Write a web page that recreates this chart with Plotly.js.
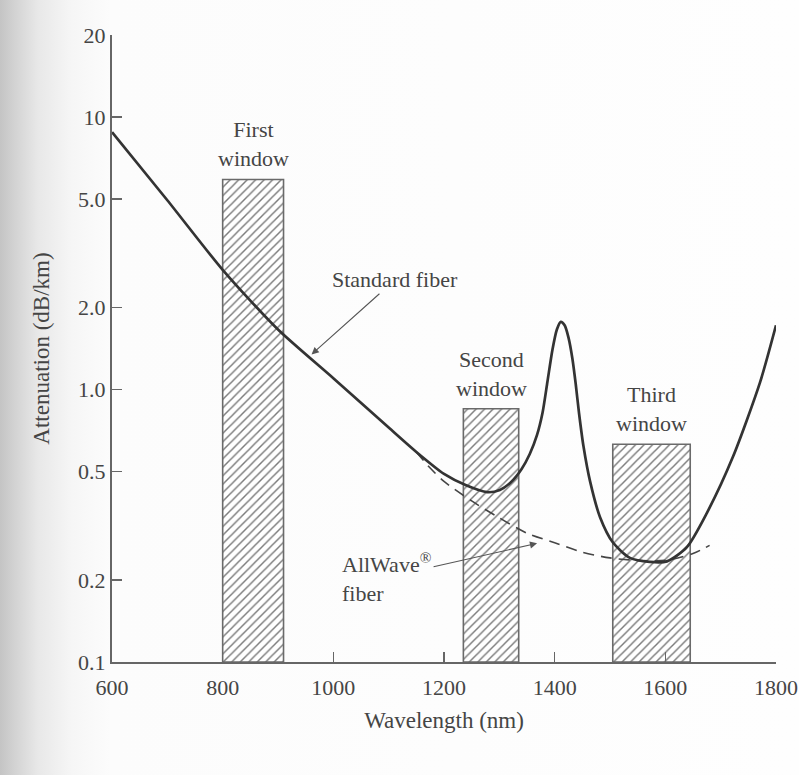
<!DOCTYPE html>
<html>
<head>
<meta charset="utf-8">
<script src="https://cdn.plot.ly/plotly-3.0.1.min.js"></script>
<style>
  html, body { margin: 0; padding: 0; }
  body {
    width: 799px; height: 775px; overflow: hidden;
    background: linear-gradient(to right, #c4c4c4 0px, #d2d2d2 14px, #e8e8e8 38px, #f6f6f6 72px, #fcfcfc 110px, #fefefe 100%);
  }
  #chart { width: 799px; height: 775px; }
</style>
</head>
<body>
<div id="chart"></div>
<script>
// ---- Data ----
const stdWavelength = [600, 700, 800, 900, 1000, 1100, 1150, 1200, 1240, 1278, 1301, 1320, 1340, 1355, 1368, 1378, 1387, 1396, 1404, 1411, 1418, 1425, 1432, 1438, 1444, 1452, 1464, 1482, 1505, 1536, 1572, 1603, 1639, 1675, 1722, 1771, 1800];
const stdAttenuation = [8.8, 4.95, 2.75, 1.66, 1.10, 0.725, 0.59, 0.49, 0.445, 0.42, 0.428, 0.455, 0.51, 0.58, 0.68, 0.82, 1.07, 1.40, 1.66, 1.77, 1.72, 1.55, 1.30, 1.05, 0.82, 0.62, 0.46, 0.34, 0.275, 0.241, 0.233, 0.234, 0.264, 0.352, 0.565, 1.06, 1.72];

const awWavelength = [1150, 1175, 1200, 1250, 1300, 1350, 1400, 1450, 1500, 1550, 1600, 1650, 1680];
const awAttenuation = [0.59, 0.515, 0.46, 0.39, 0.338, 0.297, 0.274, 0.253, 0.241, 0.236, 0.236, 0.25, 0.268];

const windowLabels = ['First<br>window', 'Second<br>window', 'Third<br>window'];
const windowStart = [800, 1235, 1505];
const windowEnd = [910, 1335, 1645];
const windowTop = [5.9, 0.85, 0.63];

const xTickVals = [600, 800, 1000, 1200, 1400, 1600, 1800];
const yTickVals = [0.1, 0.2, 0.5, 1, 2, 5, 10, 20];
const yTickText = ['0.1', '0.2', '0.5', '1.0', '2.0', '5.0', '10', '20'];

// ---- Styles ----
const FONT = '"Liberation Serif", "Times New Roman", serif';
const TXT = '#454545';
const yMin = 0.1, yMax = 20;

const traces = [];
for (let i = 0; i < windowStart.length; i++) {
  traces.push({
    type: 'scatter', mode: 'lines',
    x: [windowStart[i], windowStart[i], windowEnd[i], windowEnd[i], windowStart[i]],
    y: [yMin, windowTop[i], windowTop[i], yMin, yMin],
    fill: 'toself',
    fillcolor: 'rgba(255,255,255,0)',
    fillpattern: { shape: '/', fgcolor: '#7a7a7a', bgcolor: '#ffffff', size: 6, solidity: 0.24 },
    line: { color: '#6a6a6a', width: 1.6 },
    hoverinfo: 'skip', showlegend: false
  });
}
traces.push({
  type: 'scatter', mode: 'lines', x: awWavelength, y: awAttenuation,
  line: { color: '#454545', width: 1.6, dash: '11px,7px', shape: 'spline', smoothing: 0.8 },
  showlegend: false, hoverinfo: 'skip'
});
traces.push({
  type: 'scatter', mode: 'lines', x: stdWavelength, y: stdAttenuation,
  line: { color: '#333333', width: 2.7, shape: 'spline', smoothing: 0.7 },
  showlegend: false, hoverinfo: 'skip'
});

const annotations = windowLabels.map((t, i) => ({
  x: (windowStart[i] + windowEnd[i]) / 2, y: Math.log10(windowTop[i]),
  xref: 'x', yref: 'y', text: t, showarrow: false,
  yanchor: 'bottom', yshift: 6,
  font: { family: FONT, size: 22, color: TXT }
}));
const sfIdx = stdWavelength.indexOf(900);
annotations.push({
  x: 958, y: Math.log10(1.33), xref: 'x', yref: 'y',
  text: 'Standard fiber', showarrow: true, ax: 85, ay: -76,
  arrowhead: 2, arrowsize: 1.3, arrowwidth: 1.1, arrowcolor: '#555', standoff: 2,
  font: { family: FONT, size: 22, color: TXT }
});
annotations.push({
  x: 1370, y: Math.log10(0.273), xref: 'x', yref: 'y',
  text: 'AllWave<sup>®</sup><br>fiber', align: 'left', showarrow: true, ax: -151, ay: 34,
  arrowhead: 2, arrowsize: 1.3, arrowwidth: 1.1, arrowcolor: '#555', standoff: 1,
  font: { family: FONT, size: 22, color: TXT }
});

const layout = {
  width: 799, height: 775,
  margin: { l: 112, r: 23, t: 35, b: 113 },
  paper_bgcolor: 'rgba(0,0,0,0)', plot_bgcolor: 'rgba(0,0,0,0)',
  font: { family: FONT, color: TXT },
  xaxis: {
    range: [600, 1800], tickvals: xTickVals, ticktext: xTickVals.map(String),
    ticks: 'inside', ticklen: 10, tickwidth: 1.5, tickcolor: '#666',
    showline: true, linecolor: '#666', linewidth: 2, showgrid: false, zeroline: false,
    tickfont: { family: FONT, size: 22, color: TXT }, ticklabelstandoff: 5,
    title: { text: 'Wavelength (nm)', font: { family: FONT, size: 23, color: TXT }, standoff: 12 }
  },
  yaxis: {
    type: 'log', range: [Math.log10(yMin), Math.log10(yMax)],
    tickvals: yTickVals, ticktext: yTickText,
    ticks: 'inside', ticklen: 10, tickwidth: 1.5, tickcolor: '#666',
    showline: true, linecolor: '#666', linewidth: 2, showgrid: false, zeroline: false,
    tickfont: { family: FONT, size: 22, color: TXT },
    title: { text: 'Attenuation (dB/km)', font: { family: FONT, size: 23, color: TXT }, standoff: 22 }
  },
  annotations: annotations,
  showlegend: false
};

Plotly.newPlot('chart', traces, layout, { displayModeBar: false, staticPlot: true });
</script>
</body>
</html>
